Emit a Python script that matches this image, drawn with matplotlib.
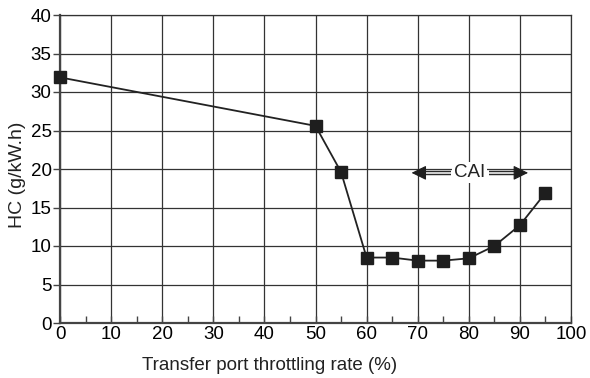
import matplotlib

matplotlib.use("Agg")

import matplotlib.pyplot as plt
import numpy as np

plt.rcParams["font.family"] = ["Liberation Sans", "DejaVu Sans"]

# transfer port throttling rate (%) and HC emission (g/kW.h)
RATE = [0, 50, 55, 60, 65, 70, 75, 80, 85, 90, 95]
HC = [31.9, 25.6, 19.6, 8.5, 8.5, 8.1, 8.1, 8.4, 10.0, 12.7, 16.9]

CAI_RANGE = (68.8, 91.6)
CAI_Y = 19.5
CAI_GAP = 3.7
HEAD = 1.8


def cai_arrow(ax, tip, tail):
    # hollow shaft (dark outline, white core) with a solid head
    sign = 1 if tail > tip else -1
    base = tip + sign * HEAD
    ax.plot([base, tail], [CAI_Y, CAI_Y], color="#2a2a2a", lw=3.2,
            solid_capstyle="butt", zorder=4)
    ax.plot([base, tail], [CAI_Y, CAI_Y], color="white", lw=1.1,
            solid_capstyle="butt", zorder=5)
    ax.annotate("", xy=(tip, CAI_Y), xytext=(base + sign * 0.01, CAI_Y),
                arrowprops=dict(arrowstyle="-|>,head_length=0.65,head_width=0.32",
                                color="#1e1e1e", lw=0.8, mutation_scale=14,
                                shrinkA=0, shrinkB=0), zorder=6)


def main() -> None:
    fig = plt.figure(figsize=(5.9, 3.78), dpi=100)
    ax = fig.add_axes([60 / 590, 55 / 378, 511 / 590, 308 / 378])

    ax.plot(RATE, HC, color="#222222", lw=1.3, marker="s", ms=9.3,
            mfc="#1e1e1e", mec="#1e1e1e", zorder=3, clip_on=False)

    ax.set_xlim(0, 100)
    ax.set_ylim(0, 40)
    ax.set_xticks(np.arange(0, 101, 10))
    ax.set_xticks(np.arange(5, 100, 10), minor=True)
    ax.set_yticks(np.arange(0, 41, 5))
    ax.grid(True, which="major", color="#333333", lw=0.9)

    for side in ("top", "right"):
        ax.spines[side].set_color("#333333")
        ax.spines[side].set_linewidth(0.9)
    for side in ("left", "bottom"):
        ax.spines[side].set_color("#444444")
        ax.spines[side].set_linewidth(1.6)

    ax.tick_params(axis="x", which="both", direction="in", length=5,
                   width=1.0, color="#444444", labelsize=13.5, pad=2)
    ax.tick_params(axis="y", direction="out", length=5, width=1.0,
                   color="#444444", labelsize=13.5, pad=1)
    ax.set_xlabel("Transfer port throttling rate (%)", fontsize=13.5,
                  color="#222222", labelpad=10, x=0.41)
    ax.set_ylabel("HC (g/kW.h)", fontsize=14, color="#222222", labelpad=3,
                  y=0.48)

    mid = (CAI_RANGE[0] + CAI_RANGE[1]) / 2
    cai_arrow(ax, CAI_RANGE[0], mid - CAI_GAP)
    cai_arrow(ax, CAI_RANGE[1], mid + CAI_GAP)
    ax.text(mid, CAI_Y, "CAI", ha="center", va="center", fontsize=13.5,
            color="#222222",
            bbox=dict(boxstyle="square,pad=0.1", fc="white", ec="none"),
            zorder=4)

    fig.savefig("out.png", dpi=100)
    plt.close(fig)


if __name__ == "__main__":
    main()
